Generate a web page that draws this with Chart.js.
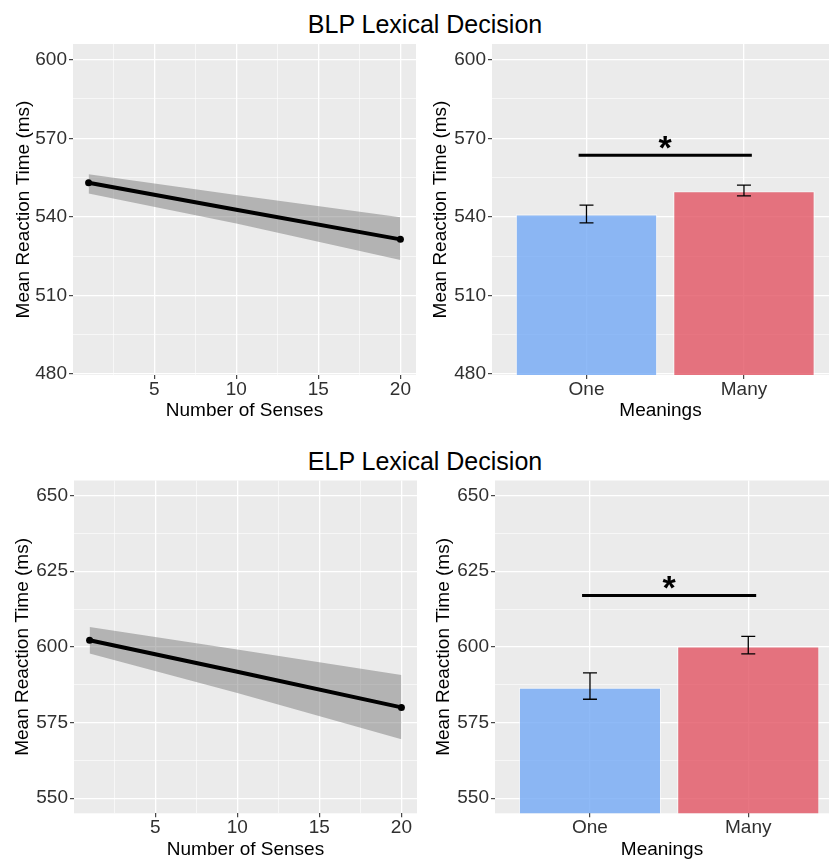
<!DOCTYPE html>
<html>
<head>
<meta charset="utf-8">
<script src="https://cdn.jsdelivr.net/npm/chart.js@4.4.1/dist/chart.umd.min.js"></script>
<style>
  body { margin: 0; background: #fff; }
  #page { position: relative; width: 829px; height: 859px; overflow: hidden; font-family: "Liberation Sans", Arial, sans-serif; }
  .title { position: absolute; left: 0; width: 850px; text-align: center; font-size: 25px; line-height: 30px; color: #000; }
  canvas { position: absolute; }
</style>
</head>
<body>
<div id="page">
  <div class="title" style="top:9px">BLP Lexical Decision</div>
  <div class="title" style="top:446px">ELP Lexical Decision</div>
  <canvas id="blpSenses" width="420" height="385" style="left:0;top:40px"></canvas>
  <canvas id="blpMeanings" width="409" height="385" style="left:420px;top:40px"></canvas>
  <canvas id="elpSenses" width="421" height="383" style="left:0;top:476px"></canvas>
  <canvas id="elpMeanings" width="408" height="383" style="left:421px;top:476px"></canvas>
</div>
<script>
// number of senses: fitted line and its confidence band
const senseX = [1, 10, 20];
const senseTicks = [2.5, 5, 7.5, 10, 12.5, 15, 17.5, 20];
const blpFit = [553.0, 542.7, 531.4];
const blpUpper = [556.3, 548.3, 539.8];
const blpLower = [548.9, 537.5, 523.5];
const elpFit = [602.2, 591.8, 580.0];
const elpUpper = [606.6, 599.1, 590.7];
const elpLower = [597.8, 584.8, 569.5];

// meanings: bar means with error bars
const meanings = ['One', 'Many'];
const blpMeans = [541.0, 549.8];
const blpErrLow = [537.7, 548.0];
const blpErrHigh = [544.5, 552.1];
const elpMeans = [586.6, 600.2];
const elpErrLow = [582.7, 597.7];
const elpErrHigh = [591.4, 603.5];
const sigSpan = [0.95, 2.05];
const blpSig = 563.5, blpStar = 569.5;
const elpSig = 617.0, elpStar = 622.3;

const blpTicks = [480, 495, 510, 525, 540, 555, 570, 585, 600];
const elpTicks = [550, 562.5, 575, 587.5, 600, 612.5, 625, 637.5, 650];

const FONT = '"Liberation Sans", Arial, sans-serif';
const TICK_COL = '#303030';
const barColors = ['rgba(115,169,245,0.8)', 'rgba(226,84,99,0.8)'];

const panelBackground = {
  id: 'panelBackground',
  beforeDraw(chart) {
    const { ctx, chartArea: a } = chart;
    ctx.save();
    ctx.fillStyle = '#EBEBEB';
    ctx.fillRect(a.left, a.top, a.right - a.left, a.bottom - a.top);
    ctx.restore();
  }
};

const errorBars = {
  id: 'errorBars',
  afterDatasetsDraw(chart, args, opts) {
    const { ctx, scales: { x, y } } = chart;
    ctx.save();
    ctx.strokeStyle = '#000';
    ctx.lineWidth = 1.3;
    opts.low.forEach((lo, i) => {
      const px = x.getPixelForValue(i + 1);
      const y0 = y.getPixelForValue(lo), y1 = y.getPixelForValue(opts.high[i]);
      ctx.beginPath();
      ctx.moveTo(px, y0); ctx.lineTo(px, y1);
      ctx.moveTo(px - 7, y0); ctx.lineTo(px + 7, y0);
      ctx.moveTo(px - 7, y1); ctx.lineTo(px + 7, y1);
      ctx.stroke();
    });
    // significance star
    const fs = 34;
    ctx.fillStyle = '#000';
    ctx.font = 'bold ' + fs + 'px ' + FONT;
    ctx.textAlign = 'center';
    ctx.textBaseline = 'alphabetic';
    ctx.fillText('*', x.getPixelForValue((sigSpan[0] + sigSpan[1]) / 2), y.getPixelForValue(opts.star) + 0.575 * fs);
    ctx.restore();
  }
};

function titleFont() {
  return { family: FONT, size: 19, lineHeight: 1 };
}

function yAxis(ticks, step, min, max, width, titlePad) {
  return {
    type: 'linear', min, max,
    afterBuildTicks: s => { s.ticks = ticks.map(v => ({ value: v })); },
    afterFit: s => { s.width = width; s.paddingTop = 0; s.paddingBottom = 0; },
    border: { display: false },
    grid: {
      color: '#fff',
      lineWidth: c => c.tick && c.tick.value % step === 0 ? 1.3 : 0.6,
      tickColor: c => c.tick && c.tick.value % step === 0 ? '#333' : 'rgba(0,0,0,0)',
      tickLength: 4, tickWidth: 1.1
    },
    ticks: {
      autoSkip: false, padding: 2, color: TICK_COL,
      font: { family: FONT, size: 19, lineHeight: 1 },
      callback: v => v % step === 0 ? String(v) : ''
    },
    title: { display: true, text: 'Mean Reaction Time (ms)', color: '#000', font: titleFont(), padding: { top: titlePad, bottom: 0 } }
  };
}

function xAxis(min, max, ticks, isMajor, label, height, text, titlePad) {
  return {
    type: 'linear', min, max, offset: false,
    afterBuildTicks: s => { s.ticks = ticks.map(v => ({ value: v })); },
    afterFit: s => { s.height = height; s.paddingLeft = 0; s.paddingRight = 0; },
    border: { display: false },
    grid: {
      offset: false,
      color: '#fff',
      lineWidth: c => c.tick && isMajor(c.tick.value) ? 1.3 : 0.6,
      tickColor: c => c.tick && isMajor(c.tick.value) ? '#333' : 'rgba(0,0,0,0)',
      tickLength: 4, tickWidth: 1.1
    },
    ticks: {
      autoSkip: false, padding: 1, color: TICK_COL, maxRotation: 0,
      font: { family: FONT, size: 19, lineHeight: 1 },
      callback: v => isMajor(v) ? label(v) : ''
    },
    title: { display: true, text, color: '#000', font: titleFont(), padding: { top: 0, bottom: titlePad } }
  };
}

function baseOptions(padTop, padRight) {
  return {
    animation: false, responsive: false, events: [],
    layout: { padding: { top: padTop, right: padRight, bottom: 0, left: 0 } },
    plugins: { legend: { display: false }, tooltip: { enabled: false } }
  };
}

function sensesChart(id, fit, upper, lower, yTicks, step, yMin, yMax, lay) {
  const pts = arr => senseX.map((x, i) => ({ x, y: arr[i] }));
  const opts = baseOptions(lay.padTop, lay.padRight);
  opts.scales = {
    x: xAxis(0.05, 20.95, senseTicks, v => v % 5 === 0, v => String(v), lay.xHeight, 'Number of Senses', lay.xTitlePad),
    y: yAxis(yTicks, step, yMin, yMax, lay.yWidth, lay.yTitlePad)
  };
  new Chart(document.getElementById(id), {
    type: 'line',
    data: {
      datasets: [
        { data: pts(lower), order: 1, borderWidth: 0, pointRadius: 0, fill: false },
        { data: pts(upper), order: 1, borderWidth: 0, pointRadius: 0, fill: '-1', backgroundColor: 'rgba(110,110,110,0.45)' },
        {
          data: pts(fit), order: 0, borderColor: '#000', borderWidth: 4, tension: 0,
          pointRadius: c => (c.dataIndex === 0 || c.dataIndex === senseX.length - 1) ? 3.5 : 0,
          pointBackgroundColor: '#000', pointBorderWidth: 0
        }
      ]
    },
    options: opts,
    plugins: [panelBackground]
  });
}

function meaningsChart(id, means, low, high, sigY, starY, yTicks, step, yMin, yMax, xMax, barBase, lay) {
  const opts = baseOptions(lay.padTop, lay.padRight);
  opts.scales = {
    x: xAxis(0.4, xMax, [1, 2], () => true, v => meanings[v - 1], lay.xHeight, 'Meanings', lay.xTitlePad),
    y: yAxis(yTicks, step, yMin, yMax, lay.yWidth, lay.yTitlePad)
  };
  opts.plugins.errorBars = { low, high, star: starY };
  new Chart(document.getElementById(id), {
    type: 'bar',
    data: {
      datasets: [
        {
          type: 'bar', order: 2,
          data: means.map((m, i) => ({ x: i + 1, y: m })),
          backgroundColor: barColors, borderColor: 'rgba(255,255,255,0.55)', borderWidth: 1.2,
          barPercentage: 0.9, categoryPercentage: 1, base: barBase
        },
        {
          type: 'line', order: 1,
          data: sigSpan.map(x => ({ x, y: sigY })),
          borderColor: '#000', borderWidth: 3, pointRadius: 0
        }
      ]
    },
    options: opts,
    plugins: [panelBackground, errorBars]
  });
}

sensesChart('blpSenses', blpFit, blpUpper, blpLower, blpTicks, 30, 479.6, 606,
  { padTop: 4, padRight: 2, yWidth: 73, xHeight: 50, xTitlePad: 4.5, yTitlePad: 14 });
meaningsChart('blpMeanings', blpMeans, blpErrLow, blpErrHigh, blpSig, blpStar, blpTicks, 30, 479.6, 606, 2.54, 478.8,
  { padTop: 4, padRight: 0, yWidth: 72, xHeight: 50, xTitlePad: 4.5, yTitlePad: 11.5 });
sensesChart('elpSenses', elpFit, elpUpper, elpLower, elpTicks, 25, 545, 655,
  { padTop: 4.5, padRight: 1, yWidth: 74, xHeight: 45.7, xTitlePad: 0, yTitlePad: 13.5 });
meaningsChart('elpMeanings', elpMeans, elpErrLow, elpErrHigh, elpSig, elpStar, elpTicks, 25, 545, 655, 2.51, 544.45,
  { padTop: 4.5, padRight: 0, yWidth: 74, xHeight: 45.7, xTitlePad: 0, yTitlePad: 13.5 });
</script>
</body>
</html>
